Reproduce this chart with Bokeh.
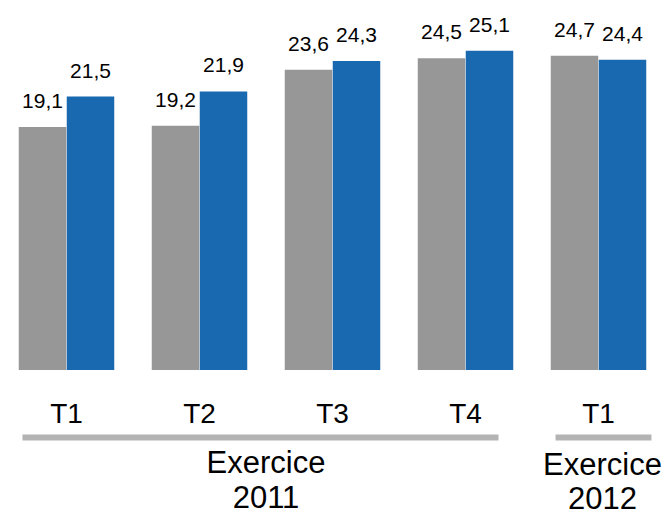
from bokeh.plotting import figure
from bokeh.models import ColumnDataSource, Range1d
from bokeh.core.properties import value
from bokeh.embed import file_html
from bokeh.resources import INLINE

# ---- data ----
quarters = ["T1", "T2", "T3", "T4", "T1"]
previous = [19.1, 19.2, 23.6, 24.5, 24.7]
current = [21.5, 21.9, 24.3, 25.1, 24.4]
exercices = ["Exercice\n2011", "Exercice\n2012"]
exercice_groups = [[0, 1, 2, 3], [4]]

GRAY = "#979797"
BLUE = "#1869b0"
LINE = "#b3b3b3"
FONT = "Liberation Sans"

PX_PER_UNIT = 12.72
GROUP_PX = 133.0


def below(px):
    return -px / PX_PER_UNIT


xs = list(range(len(quarters)))
off = 24.0 / GROUP_PX
bw = 47.5 / GROUP_PX

fmt = lambda v: f"{v:.1f}".replace(".", ",")

src = ColumnDataSource(dict(
    x=xs,
    xg=[x - off for x in xs],
    xb=[x + off for x in xs],
    prev=previous,
    curr=current,
    prev_lbl=[fmt(v) for v in previous],
    curr_lbl=[fmt(v) for v in current],
    q=quarters,
))

W, H = 668, 515
base_px = 369.5
x0 = -66.0 / GROUP_PX
x1 = (W - 66.0) / GROUP_PX
y1 = base_px / PX_PER_UNIT
y0 = -(H - base_px) / PX_PER_UNIT

p = figure(width=W, height=H, output_backend="svg", toolbar_location=None,
           x_range=Range1d(x0, x1), y_range=Range1d(y0, y1),
           min_border=0, outline_line_color=None)
p.axis.visible = False
p.grid.visible = False
p.background_fill_color = "white"
p.border_fill_color = "white"

p.vbar(x="xg", top="prev", bottom=0, width=bw, source=src, color=GRAY, line_color=None)
p.vbar(x="xb", top="curr", bottom=0, width=bw, source=src, color=BLUE, line_color=None)

p.text(x="xg", y="prev", text="prev_lbl", source=src, text_align="center",
       text_baseline="alphabetic", y_offset=-26, text_font=value(FONT),
       text_font_size="21px", text_color="black")
p.text(x="xb", y="curr", text="curr_lbl", source=src, text_align="center",
       text_baseline="alphabetic", y_offset=-26, text_font=value(FONT),
       text_font_size="21px", text_color="black")

# quarter labels
p.text(x="x", y=below(43), text="q", source=src, text_align="center",
       text_baseline="alphabetic", text_font=value(FONT),
       text_font_size="28px", text_color="black")

# exercice underlines
seg_x0 = [exercice_groups[0][0] - 0.331, exercice_groups[1][0] - 0.323]
seg_x1 = [exercice_groups[0][-1] + 0.248, exercice_groups[1][-1] + 0.398]
p.segment(x0=seg_x0, x1=seg_x1, y0=[below(67.5)] * 2, y1=[below(67.5)] * 2,
          line_color=LINE, line_width=6, line_cap="butt")

# exercice labels
ex_x = [sum(g) / len(g) for g in exercice_groups]
ex_x[1] += 0.03
line1 = [e.split("\n")[0] for e in exercices]
line2 = [e.split("\n")[1] for e in exercices]
p.text(x=ex_x, y=[below(92.5), below(94.5)], text=line1, text_align="center",
       text_baseline="alphabetic", text_font=value(FONT),
       text_font_size="31px", text_color="black")
p.text(x=ex_x, y=[below(126.5), below(128)], text=line2, text_align="center",
       text_baseline="alphabetic", text_font=value(FONT),
       text_font_size="31px", text_color="black")

open("out.html", "w").write(file_html(p, INLINE))
